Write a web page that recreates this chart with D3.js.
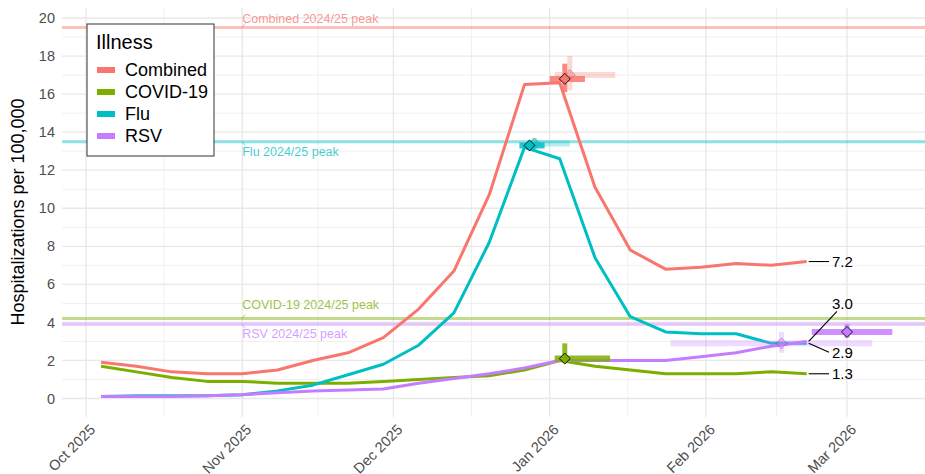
<!DOCTYPE html>
<html>
<head>
<meta charset="utf-8">
<script src="https://cdn.jsdelivr.net/npm/d3@7"></script>
<style>
  body { margin: 0; background: #fff; }
  svg { font-family: "Liberation Sans", Arial, sans-serif; display: block; }
</style>
</head>
<body>
<svg id="chart" width="925" height="474"></svg>
<script>
// weekly data, week ending Saturday
var weeks = ["2025-10-04","2025-10-11","2025-10-18","2025-10-25","2025-11-01","2025-11-08","2025-11-15",
  "2025-11-22","2025-11-29","2025-12-06","2025-12-13","2025-12-20","2025-12-27","2026-01-03",
  "2026-01-10","2026-01-17","2026-01-24","2026-01-31","2026-02-07","2026-02-14","2026-02-21"];
var combined = [1.9,1.7,1.4,1.3,1.3,1.5,2.0,2.4,3.2,4.7,6.7,10.7,16.5,16.6,11.1,7.8,6.8,6.9,7.1,7.0,7.2];
var covid    = [1.7,1.4,1.1,0.9,0.9,0.8,0.8,0.8,0.9,1.0,1.1,1.2,1.5,2.0,1.7,1.5,1.3,1.3,1.3,1.4,1.3];
var flu      = [0.1,0.15,0.15,0.15,0.2,0.4,0.7,1.25,1.8,2.8,4.5,8.2,13.2,12.6,7.4,4.3,3.5,3.4,3.4,2.9,2.9];
var rsv      = [0.1,0.1,0.1,0.15,0.2,0.3,0.4,0.45,0.5,0.8,1.05,1.3,1.6,2.0,2.0,2.0,2.0,2.2,2.4,2.75,3.0];

var illness = ["Combined","COVID-19","Flu","RSV"];
var colors  = ["#F8766D","#7CAE00","#00BFC4","#C77CFF"];
var lastSeasonPeak = [19.5, 4.2, 13.5, 3.9];

// current peak forecast
var peakDate    = ["2026-01-04","2026-01-04","2025-12-28","2026-03-01"];
var peakDateLo  = ["2026-01-01","2026-01-02","2025-12-26","2026-02-22"];
var peakDateHi  = ["2026-01-08","2026-01-13","2025-12-31","2026-03-10"];
var peakValue   = [16.8, 2.1, 13.3, 3.5];
var peakValueLo = [16.1, 2.0, 13.1, 3.2];
var peakValueHi = [17.6, 2.9, 13.5, 3.9];

// previous peak forecast (faded)
var prevIllness = ["Combined","Flu","RSV"];
var prevDate    = ["2026-01-05","2025-12-29","2026-02-16"];
var prevDateLo  = ["2026-01-02","2025-12-28","2026-01-25"];
var prevDateHi  = ["2026-01-14","2026-01-05","2026-03-06"];
var prevValue   = [17.0, 13.4, 2.9];
var prevValueLo = [16.2, 13.0, 2.4];
var prevValueHi = [18.0, 13.7, 3.5];

var yTicks = [0,2,4,6,8,10,12,14,16,18,20];

var parse = d3.utcParse("%Y-%m-%d");
var svg = d3.select("#chart");

var panel = {left: 62, right: 925, top: 8, bottom: 417};

var x = d3.scaleUtc()
  .domain([parse("2025-10-01"), parse("2026-03-01")])
  .range([86, 847]);
var y = d3.scaleLinear().domain([0, 20]).range([398.5, 18]);

var color = d3.scaleOrdinal().domain(illness).range(colors);

var series = [combined, covid, flu, rsv].map(function(vals, i) {
  return { name: illness[i], values: vals.map(function(v, j) { return {date: parse(weeks[j]), value: v}; }) };
});

svg.append("clipPath").attr("id", "clip").append("rect")
  .attr("x", panel.left).attr("y", panel.top)
  .attr("width", panel.right - panel.left).attr("height", panel.bottom - panel.top);

// grid
var grid = svg.append("g");
var months = d3.utcMonth.range(parse("2025-10-01"), parse("2026-03-02"));
var minorX = [];
for (var i = 0; i < months.length - 1; i++) {
  minorX.push(new Date((months[i].getTime() + months[i + 1].getTime()) / 2));
}
var minorY = d3.range(1, 20, 2);

grid.selectAll(".minx").data(minorX).enter().append("line")
  .attr("x1", x).attr("x2", x).attr("y1", panel.top).attr("y2", panel.bottom)
  .attr("stroke", "#F0F0F0").attr("stroke-width", 1);
grid.selectAll(".miny").data(minorY).enter().append("line")
  .attr("x1", panel.left).attr("x2", panel.right).attr("y1", y).attr("y2", y)
  .attr("stroke", "#F0F0F0").attr("stroke-width", 1);
grid.selectAll(".majx").data(months).enter().append("line")
  .attr("x1", x).attr("x2", x).attr("y1", panel.top).attr("y2", panel.bottom)
  .attr("stroke", "#E8E8E8").attr("stroke-width", 1.3);
grid.selectAll(".majy").data(yTicks).enter().append("line")
  .attr("x1", panel.left).attr("x2", panel.right).attr("y1", y).attr("y2", y)
  .attr("stroke", "#E8E8E8").attr("stroke-width", 1.3);

// axes
var yAxis = svg.append("g")
  .attr("transform", "translate(" + panel.left + ",0)")
  .call(d3.axisLeft(y).tickValues(yTicks).tickSize(0).tickPadding(7));
yAxis.select(".domain").remove();
yAxis.selectAll("text").attr("font-size", 14.5).attr("fill", "#4D4D4D")
  .attr("font-family", "Liberation Sans, Arial, sans-serif");

var xAxis = svg.append("g")
  .attr("transform", "translate(0," + panel.bottom + ")")
  .call(d3.axisBottom(x).tickValues(months).tickFormat(d3.utcFormat("%b %Y")).tickSize(0));
xAxis.select(".domain").remove();
xAxis.selectAll("text")
  .attr("font-size", 14.5).attr("fill", "#4D4D4D")
  .attr("font-family", "Liberation Sans, Arial, sans-serif")
  .attr("text-anchor", "end")
  .attr("y", 0).attr("dy", "0.35em")
  .attr("transform", "translate(6,10) rotate(-45)");

svg.append("text")
  .attr("transform", "translate(24,212) rotate(-90)")
  .attr("text-anchor", "middle")
  .attr("font-size", 18)
  .attr("fill", "#000")
  .text("Hospitalizations per 100,000");

var plot = svg.append("g").attr("clip-path", "url(#clip)");

// last season peaks
var refNudge = {"Combined": -5, "COVID-19": -10, "Flu": 14, "RSV": 14};
var refs = illness.map(function(n, i) { return {name: n, value: lastSeasonPeak[i]}; });
plot.selectAll(".ref").data(refs).enter().append("line")
  .attr("x1", panel.left).attr("x2", panel.right)
  .attr("y1", function(d) { return y(d.value); })
  .attr("y2", function(d) { return y(d.value); })
  .attr("stroke", function(d) { return color(d.name); })
  .attr("stroke-width", 3).attr("stroke-opacity", 0.45);
var labX = x(parse("2025-11-01"));
plot.selectAll(".refseg").data(refs).enter().append("line")
  .attr("x1", labX).attr("x2", labX + 3)
  .attr("y1", function(d) { return y(d.value); })
  .attr("y2", function(d) { return y(d.value) + (refNudge[d.name] < 0 ? -4 : 4); })
  .attr("stroke", function(d) { return color(d.name); })
  .attr("stroke-opacity", 0.6);
plot.selectAll(".reflab").data(refs).enter().append("text")
  .attr("x", labX)
  .attr("y", function(d) { return y(d.value) + refNudge[d.name]; })
  .attr("font-size", 12.5)
  .attr("fill", function(d) { return color(d.name); })
  .attr("fill-opacity", 0.75)
  .text(function(d) { return d.name + " 2024/25 peak"; });

// series lines
var line = d3.line().x(function(d) { return x(d.date); }).y(function(d) { return y(d.value); });
plot.selectAll(".series").data(series).enter().append("path")
  .attr("d", function(d) { return line(d.values); })
  .attr("fill", "none")
  .attr("stroke", function(d) { return color(d.name); })
  .attr("stroke-width", 3)
  .attr("stroke-linejoin", "round");

// peak forecasts
function drawPeaks(names, dt, dlo, dhi, v, vlo, vhi, op, diaFill, diaStroke) {
  var data = names.map(function(n, i) {
    return {name: n, date: parse(dt[i]), lo: parse(dlo[i]), hi: parse(dhi[i]), v: v[i], vlo: vlo[i], vhi: vhi[i]};
  });
  var g = plot.append("g");
  g.selectAll(".hbar").data(data).enter().append("line")
    .attr("x1", function(d) { return x(d.lo); }).attr("x2", function(d) { return x(d.hi); })
    .attr("y1", function(d) { return y(d.v); }).attr("y2", function(d) { return y(d.v); })
    .attr("stroke", function(d) { return color(d.name); })
    .attr("stroke-width", 6).attr("stroke-opacity", op);
  g.selectAll(".vbar").data(data).enter().append("line")
    .attr("x1", function(d) { return x(d.date); }).attr("x2", function(d) { return x(d.date); })
    .attr("y1", function(d) { return y(d.vlo); }).attr("y2", function(d) { return y(d.vhi); })
    .attr("stroke", function(d) { return color(d.name); })
    .attr("stroke-width", 5).attr("stroke-opacity", op);
  g.selectAll(".dia").data(data).enter().append("path")
    .attr("d", d3.symbol(d3.symbolSquare, 60))
    .attr("transform", function(d) { return "translate(" + x(d.date) + "," + y(d.v) + ") rotate(45)"; })
    .attr("fill", function(d) { return color(d.name); })
    .attr("fill-opacity", diaFill)
    .attr("stroke", "#000").attr("stroke-opacity", diaStroke).attr("stroke-width", 0.9);
}
drawPeaks(prevIllness, prevDate, prevDateLo, prevDateHi, prevValue, prevValueLo, prevValueHi, 0.28, 0.3, 0.25);
drawPeaks(illness, peakDate, peakDateLo, peakDateHi, peakValue, peakValueLo, peakValueHi, 0.85, 1, 0.9);

// end labels
var endNudge = {"Combined": 0, "COVID-19": 0, "Flu": 9, "RSV": -38};
var ends = series.map(function(s) {
  var last = s.values[s.values.length - 1];
  return {name: s.name, date: last.date, value: last.value};
});
var lab = svg.append("g");
lab.selectAll(".endseg").data(ends).enter().append("line")
  .attr("x1", function(d) { return x(d.date) + 2; })
  .attr("y1", function(d) { return y(d.value); })
  .attr("x2", function(d) { return endNudge[d.name] < 0 ? 837 : 829; })
  .attr("y2", function(d) { return y(d.value) + endNudge[d.name] + (endNudge[d.name] < 0 ? 8 : 0); })
  .attr("stroke", "#000").attr("stroke-width", 1.1);
lab.selectAll(".endlab").data(ends).enter().append("text")
  .attr("x", 832)
  .attr("y", function(d) { return y(d.value) + endNudge[d.name]; })
  .attr("dy", "0.35em")
  .attr("font-size", 15)
  .attr("fill", "#000")
  .text(function(d) { return d3.format(".1f")(d.value); });

// legend
var leg = svg.append("g").attr("transform", "translate(87,24)");
leg.append("rect").attr("width", 127).attr("height", 132)
  .attr("fill", "#fff").attr("stroke", "#333").attr("stroke-width", 1);
leg.append("text").attr("x", 9).attr("y", 25).attr("font-size", 20).text("Illness");
var items = leg.selectAll(".item").data(illness).enter().append("g")
  .attr("transform", function(d, i) { return "translate(0," + (46 + i * 22) + ")"; });
items.append("rect").attr("x", 10).attr("y", -3).attr("width", 18).attr("height", 6)
  .attr("fill", function(d) { return color(d); });
items.append("text").attr("x", 38).attr("dy", "0.35em").attr("font-size", 18).text(function(d) { return d; });
</script>
</body>
</html>
